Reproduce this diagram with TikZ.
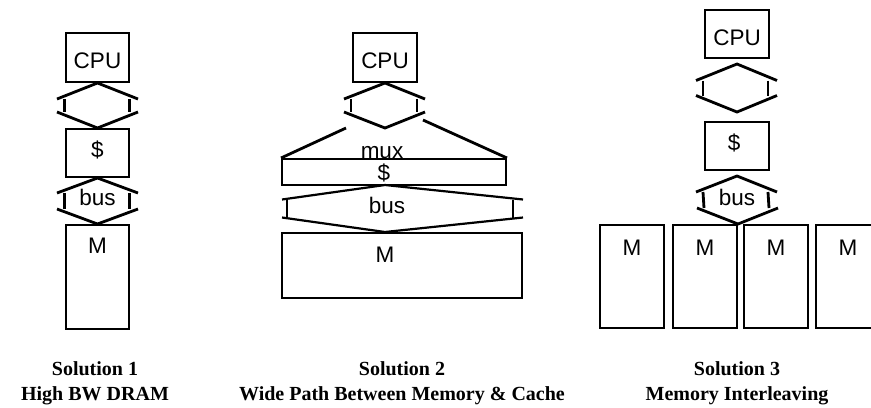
\documentclass[tikz,border=0pt]{standalone}
\usepackage{fontspec}
\setmainfont{Liberation Serif}
\newfontfamily\boxfont{Liberation Sans}
\usetikzlibrary{calc}

\newcommand{\busarrow}[8][]{%
\draw [bus line,#1] ($#2+(-#4,-#8)$) -- #2 -- ($#2+(#7,-#8)$);
\draw [bus line,#1] ($#3+(-#4,#8)$) -- #3 -- ($#3+(#7,#8)$);
\draw [bus line,#1] ($#2+(-#5,-#8)$) -- ($#3+(-#5,#8)$);
\draw [bus line,#1] ($#2+(#6,-#8)$) -- ($#3+(#6,#8)$);
}

\begin{document}
\begin{tikzpicture}[x=1bp,y=1bp]
\tikzstyle{every node}+=[inner sep=0pt]
\tikzstyle{box}=[draw, line width=2bp]
\tikzstyle{lbl}=[font=\boxfont\fontsize{22.5bp}{27bp}\selectfont, anchor=base]
\tikzstyle{bus line}=[line width=2.8bp]
\tikzstyle{caption}=[font=\bfseries\fontsize{20bp}{25bp}\selectfont, align=center]
\useasboundingbox (0,0) rectangle (871,-407);
\clip (0,0) rectangle (871,-407);
\node [box, minimum width=63bp, minimum height=49bp] (cpuA) at (97.5,-57.5) {};
\node [box, minimum width=63bp, minimum height=48bp] (cacheA) at (97.5,-153) {};
\node [box, minimum width=63bp, minimum height=104bp] (memA) at (97.5,-277) {};
\node [lbl] (cpuAtxt) at (97.5,-68) {CPU};
\node [lbl] (cacheAtxt) at (97.5,-157) {\$};
\node [lbl] (busAtxt) at (97.5,-205) {bus};
\node [lbl] (memAtxt) at (97.5,-253) {M};
\busarrow{(cpuA.south)}{(cacheA.north)}{40.5}{33}{32}{40.5}{16}
\busarrow{(cacheA.south)}{(memA.north)}{40.5}{33}{32}{40.5}{15}
\node [box, minimum width=64bp, minimum height=49bp] (cpuB) at (385,-57.5) {};
\node [box, minimum width=224bp, minimum height=26bp] (cacheB) at (394,-172) {};
\node [box, minimum width=240bp, minimum height=65bp] (memB) at (402,-265.5) {};
\coordinate (hexBbot) at (385,-128);
\coordinate (muxBl) at (346,-128);
\coordinate (muxBr) at (423,-120);
\coordinate (busBtop) at (385,-185);
\coordinate (busBbot) at (385,-232);
\busarrow{(cpuB.south)}{(hexBbot)}{41}{34}{32}{40}{16}
\draw [bus line] (cacheB.north west) -- (muxBl);
\draw [bus line] (cacheB.north east) -- (muxBr);
\busarrow[line width=2.2bp]{(busBtop)}{(busBbot)}{103}{98}{128}{138}{14.5}
\node [lbl] (cpuBtxt) at (385,-68) {CPU};
\node [lbl] (muxBtxt) at (382,-158) {mux};
\node [lbl] (cacheBtxt) at (384,-180) {\$};
\node [lbl] (busBtxt) at (387,-213) {bus};
\node [lbl] (memBtxt) at (385,-262) {M};
\node [box, minimum width=64bp, minimum height=48bp] (cpuC) at (737,-34) {};
\node [box, minimum width=64bp, minimum height=48bp] (cacheC) at (737,-146) {};
\node [box, minimum width=64bp, minimum height=103bp] (memC1) at (632,-276.5) {};
\node [box, minimum width=64bp, minimum height=103bp] (memC2) at (705,-276.5) {};
\node [box, minimum width=64bp, minimum height=103bp] (memC3) at (776,-276.5) {};
\node [box, minimum width=64bp, minimum height=103bp] (memC4) at (848,-276.5) {};
\coordinate (hexCtop) at ($(cpuC.south)+(0,-5)$);
\coordinate (hexCbot) at ($(cacheC.north)+(0,9)$);
\coordinate (busCtop) at ($(cacheC.south)+(0,-5)$);
\busarrow{(hexCtop)}{(hexCbot)}{41}{34}{31}{40}{16.5}
\busarrow{(busCtop)}{(memC2.north east)}{41}{34}{31}{40}{16}
\node [lbl] (cpuCtxt) at (737,-45) {CPU};
\node [lbl] (cacheCtxt) at (734,-150) {\$};
\node [lbl] (busCtxt) at (737,-205) {bus};
\node [lbl] (memC1txt) at (632,-255) {M};
\node [lbl] (memC2txt) at (705,-255) {M};
\node [lbl] (memC3txt) at (776,-255) {M};
\node [lbl] (memC4txt) at (848,-255) {M};
\node [caption] (capA) at (95,-383) {Solution 1\\High BW DRAM};
\node [caption] (capB) at (402,-383) {Solution 2\\Wide Path Between Memory \& Cache};
\node [caption] (capC) at (737,-383) {Solution 3\\Memory Interleaving};
\end{tikzpicture}
\end{document}
